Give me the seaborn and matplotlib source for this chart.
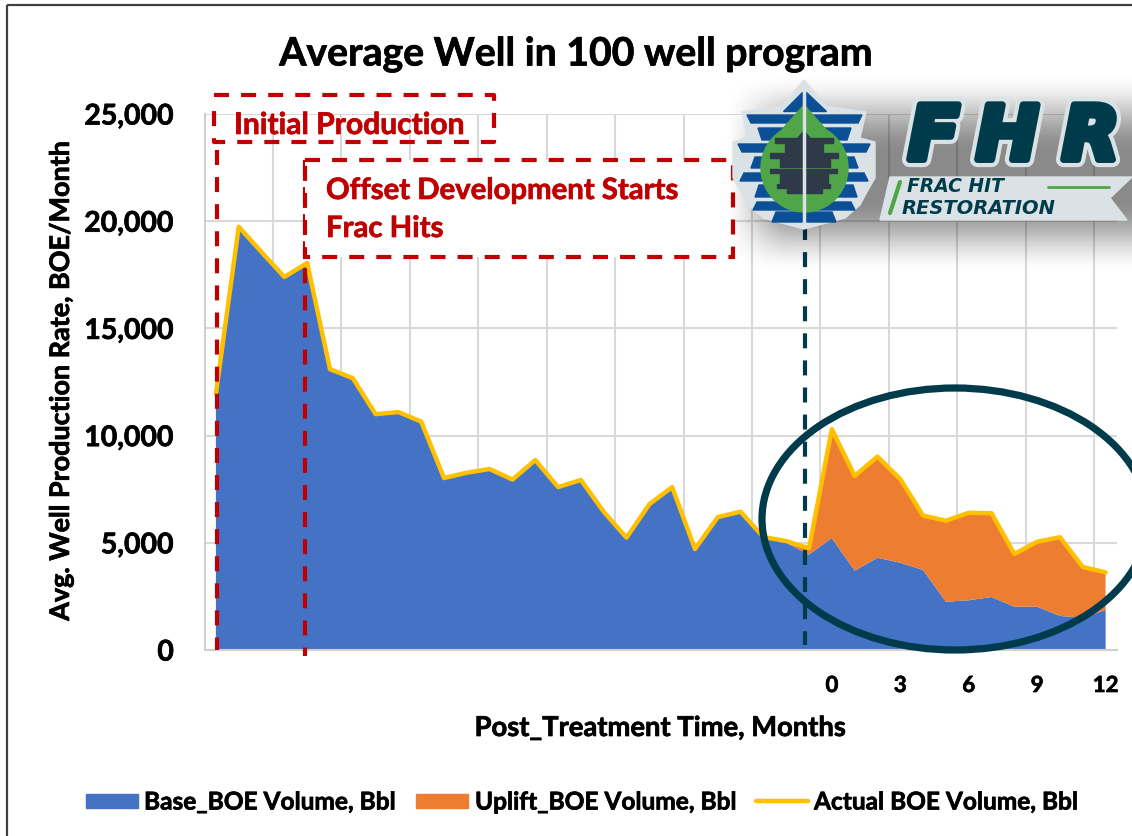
import numpy as np
import pandas as pd
import seaborn as sns
import matplotlib.pyplot as plt
import matplotlib.patheffects as pe
from matplotlib.patches import Ellipse, Polygon, Rectangle

# Data
periods = list(range(40))
base_boe = [11950, 19740, 18560, 17400, 18050, 13100, 12680, 11000, 11100, 10650,
            8020, 8270, 8440, 7950, 8860, 7600, 7930, 6450, 5240, 6800,
            7600, 4710, 6200, 6450, 5270, 5000, 4450, 5220, 3700, 4300,
            4070, 3730, 2250, 2320, 2470, 2020, 2020, 1590, 1500, 1870]
uplift_boe = [0, 0, 0, 0, 0, 0, 0, 0, 0, 0,
              0, 0, 0, 0, 0, 0, 0, 0, 0, 0,
              0, 0, 0, 0, 0, 80, 300, 5080, 4420, 4720,
              3900, 2540, 3780, 4080, 3910, 2460, 3030, 3670, 2370, 1750]
actual_boe = [11950, 19740, 18560, 17400, 18050, 13100, 12680, 11000, 11100, 10650,
              8020, 8270, 8440, 7950, 8860, 7600, 7930, 6450, 5240, 6800,
              7600, 4710, 6200, 6450, 5270, 5080, 4750, 10300, 8120, 9020,
              7970, 6270, 6030, 6400, 6380, 4480, 5050, 5260, 3870, 3620]
month_labels = ["0", "3", "6", "9", "12"]
month_periods = [27, 30, 33, 36, 39]
y_ticks = [0, 5000, 10000, 15000, 20000, 25000]

BLUE = "#4472c4"
ORANGE = "#ed7d31"
GOLD = "#ffc000"
RED = "#c00000"
TEAL = "#003b4c"
LIGHT = "#dbe2e6"
LOGO_BLUE = "#0b4f96"
GREEN = "#4fa548"
DARK = "#2e3a48"

sns.set_theme(style="whitegrid")
plt.rcParams["font.family"] = ["Lato", "DejaVu Sans"]
plt.rcParams["font.weight"] = "bold"

W, H = 1132, 836
fig = plt.figure(figsize=(W / 100, H / 100), dpi=100, facecolor="white")
ax = fig.add_axes([204.5 / W, 1 - 650 / H, (1117 - 204.5) / W, (650 - 114) / H])

df = pd.DataFrame({"period": periods, "base": base_boe, "uplift": uplift_boe, "actual": actual_boe})

ax.stackplot(df["period"], df["base"], df["uplift"], colors=[BLUE, ORANGE], zorder=2,
             edgecolor="none", linewidth=0,
             labels=["Base_BOE Volume, Bbl", "Uplift_BOE Volume, Bbl"])
sns.lineplot(data=df, x="period", y="actual", color=GOLD, linewidth=3.2, ax=ax, zorder=3,
             label="Actual BOE Volume, Bbl")


def thicken(txt, col="black", amount=0.5):
    # Calibri bold is heavier than Lato bold
    txt.set_path_effects([pe.withStroke(linewidth=amount, foreground=col)])
    return txt


ax.set_xlim(-0.5, 39.5)
ax.set_ylim(0, 25000)
ax.set_yticks(y_ticks)
ax.set_yticklabels([f"{v:,}" for v in y_ticks], fontsize=20.5, fontweight="bold", color="black")
ax.set_xticks(month_periods)
ax.set_xticklabels(month_labels, fontsize=16, fontweight="bold", color="black")
ax.set_xticks(np.arange(-0.5, 40, 3), minor=True)
ax.tick_params(axis="both", which="both", length=0)
ax.tick_params(axis="x", which="major", pad=18)
ax.tick_params(axis="y", pad=22)
for lab in ax.get_xticklabels() + ax.get_yticklabels():
    thicken(lab)
ax.grid(False)
ax.grid(True, axis="x", which="minor", color="#d9d9d9", linewidth=1.5, zorder=0)
ax.grid(True, axis="y", which="major", color="#d9d9d9", linewidth=1.5, zorder=0)
ax.set_axisbelow(True)
for side in ["top", "right"]:
    ax.spines[side].set_visible(False)
for side in ["left", "bottom"]:
    ax.spines[side].set_color("#d0d0d0")
    ax.spines[side].set_linewidth(1.5)
ax.set_xlabel("")
ax.set_ylabel("")
ax.get_legend().remove()

# Overlay in picture pixels for callouts, logo, labels
ov = fig.add_axes([0, 0, 1, 1], facecolor="none")
ov.set_xlim(0, W)
ov.set_ylim(H, 0)
ov.axis("off")

ov.add_patch(Rectangle((7, 5), W, H, fill=False, edgecolor="#404040", linewidth=1.6))
thicken(ov.text(576, 54, "Average Well in 100 well program", ha="center", va="center", fontsize=28.2,
                fontweight="bold", color="black"))
thicken(ov.text(61, 382, "Avg. Well Production Rate, BOE/Month", rotation=90, ha="center", va="center",
                fontsize=19.4, fontweight="bold", color="black"))
thicken(ov.text(660, 728, "Post_Treatment Time, Months", ha="center", va="center", fontsize=19.7,
                fontweight="bold", color="black"))

# Callouts
dash = (0, (3.6, 2.9))
ov.plot([216.5, 216.5], [150, 650], color=RED, lw=3, ls=dash)
ov.plot([305, 305], [160, 656], color=RED, lw=3, ls=dash)
ov.plot([214, 494, 494, 214, 214], [95, 95, 142, 142, 100], color=RED, lw=3, ls=dash)
ov.add_patch(Rectangle((305, 160), 428, 97, facecolor="white", edgecolor=RED, lw=3, ls=dash, zorder=3))
thicken(ov.text(234, 125, "Initial Production", ha="left", va="center", fontsize=21.6,
                fontweight="bold", color=RED), RED)
thicken(ov.text(326, 191, "Offset Development Starts", ha="left", va="center", fontsize=21.1,
                fontweight="bold", color=RED, zorder=4), RED)
thicken(ov.text(326, 229, "Frac Hits", ha="left", va="center", fontsize=21.1, fontweight="bold",
                color=RED, zorder=4), RED)

ov.plot([805, 805], [225, 645], color=TEAL, lw=3, ls=dash)
ov.add_patch(Ellipse((955, 519), 386, 262, fill=False, edgecolor=TEAL, lw=5.2, zorder=5))

# Logo shadow
yy, xx = np.mgrid[70:285, 722:1132]


def ramp(v):
    v = np.clip(v, 0, 1)
    return v * v * (3 - 2 * v)


sh = ramp((xx - 722) / 70) * ramp((274 - yy) / 75) * ramp((yy - 72) / 80)
rgba = np.zeros(sh.shape + (4,))
rgba[..., 3] = 0.46 * sh
ov.imshow(rgba, extent=(722, 1132, 285, 70), aspect="auto", zorder=6, interpolation="bilinear")
ov.set_xlim(0, W)
ov.set_ylim(H, 0)

# Logo badge
ov.add_patch(Polygon([(804, 80), (826, 106), (866, 112), (860, 138), (875, 142), (875, 178),
                      (868, 190), (860, 205), (845, 218), (804, 229), (763, 218), (748, 205),
                      (740, 190), (733, 178), (733, 142), (748, 138), (742, 112), (782, 106)],
                     color=LIGHT, zorder=7))
blue_bands = [(747, 862, 115, 123), (758, 851, 128, 140), (738, 870, 144, 152), (751, 858, 157, 168),
              (740, 868, 173, 181), (755, 857, 185, 197), (753, 855, 202, 210), (772, 836, 212, 222)]
for x0, x1, y0, y1 in blue_bands:
    s = 4 if y0 < 150 else -4
    ov.add_patch(Polygon([(x0 - min(s, 0), y0), (x1 + min(s, 0), y0), (x1 - max(s, 0), y1), (x0 + max(s, 0), y1)],
                         color=LOGO_BLUE, zorder=8))
ov.add_patch(Polygon([(802, 92), (802, 111), (783, 111)], color=LOGO_BLUE, zorder=8))
ov.add_patch(Polygon([(806, 92), (806, 111), (826, 111)], color=LOGO_BLUE, zorder=8))
ov.add_patch(Polygon([(804, 105), (780, 132), (766, 148), (842, 148), (828, 132)], color=GREEN, zorder=9))
ov.add_patch(Ellipse((804.5, 168), 87, 88, color=GREEN, zorder=9))
dark_bands = [(775, 833, 138, 143), (785, 823, 144, 152), (770, 838, 153, 158), (780, 830, 159, 167),
              (770, 837, 169, 173), (780, 828, 174, 183), (777, 830, 184, 188), (787, 822, 189, 193)]
for x0, x1, y0, y1 in dark_bands:
    ov.add_patch(Rectangle((x0, y0), x1 - x0, y1 - y0, color=DARK, zorder=10))
ov.add_patch(Polygon([(804, 131), (798, 138), (810, 138)], color=DARK, zorder=10))
ov.plot([804, 804], [86, 224], color=LIGHT, lw=2.5, zorder=12)

# Logo lettering
outline = [pe.withStroke(linewidth=11, foreground=LIGHT), pe.withStroke(linewidth=5, foreground=TEAL)]
for letter, lx in [("F", 908), ("H", 976), ("R", 1062)]:
    t = ov.text(lx, 139, letter, ha="left", va="center", fontsize=54, fontstyle="italic",
                fontweight="bold", color=TEAL, zorder=8, family="DejaVu Sans")
    t.set_path_effects(outline)
ov.add_patch(Polygon([(880, 220), (890, 177), (1132, 177), (1110, 198), (1127, 220)], color=LIGHT, zorder=9))
ov.text(907, 187, "FRAC HIT", ha="left", va="center", fontsize=13.5, fontstyle="italic",
        fontweight="bold", color=TEAL, zorder=10, family="DejaVu Sans")
ov.text(902, 208, "RESTORATION", ha="left", va="center", fontsize=14, fontstyle="italic",
        fontweight="bold", color=TEAL, zorder=10, family="DejaVu Sans")
ov.plot([1048, 1109], [187, 187], color=GREEN, lw=2, zorder=10)
ov.plot([900, 890], [182, 213], color=GREEN, lw=3, zorder=10)

# Legend drawn to match the source layout
ov.add_patch(Rectangle((86, 794), 52, 14, color=BLUE))
thicken(ov.text(144, 802, "Base_BOE Volume, Bbl", ha="left", va="center", fontsize=17.6,
                fontweight="bold", color="black"))
ov.add_patch(Rectangle((416, 794), 52, 14, color=ORANGE))
thicken(ov.text(475, 802, "Uplift_BOE Volume, Bbl", ha="left", va="center", fontsize=17.6,
                fontweight="bold", color="black"))
ov.plot([756, 808], [800.5, 800.5], color=GOLD, lw=3.2, solid_capstyle="round")
thicken(ov.text(814, 802, "Actual BOE Volume, Bbl", ha="left", va="center", fontsize=17.6,
                fontweight="bold", color="black"))

fig.savefig("out.png", dpi=100)
